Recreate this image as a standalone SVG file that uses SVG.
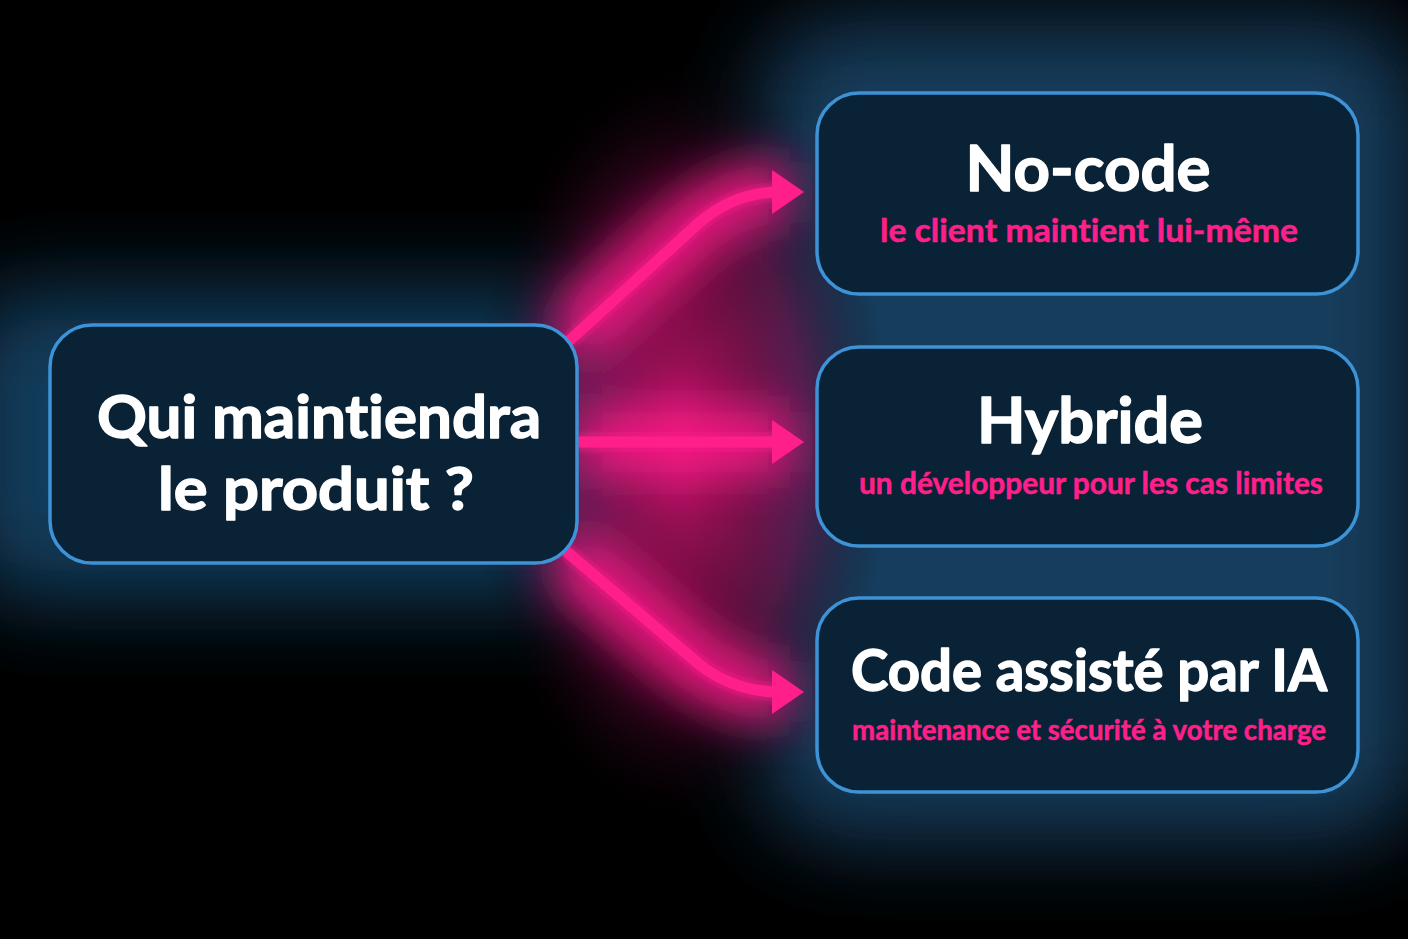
<svg xmlns="http://www.w3.org/2000/svg" width="1408" height="939" viewBox="0 0 1408 939">
<defs>
<style>
.box{fill:#0a2236;stroke:#3d93d6;stroke-width:3.5}
text{font-variant-ligatures:none;font-family:Lato,"Noto Sans",sans-serif;font-weight:700;text-anchor:middle}
.title{fill:#ffffff;stroke:#ffffff;stroke-width:1.4;stroke-linejoin:round}
.sub{fill:#ff1f8a;stroke:#ff1f8a;stroke-width:0.5}
.arrow{fill:none;stroke:#ff1f8a;stroke-width:11;stroke-linecap:round}
.head{fill:#ff1f8a}
</style>
<filter id="blurBig" x="-50%" y="-50%" width="200%" height="200%"><feGaussianBlur stdDeviation="45"/></filter>
<filter id="blurMid" x="-50%" y="-50%" width="200%" height="200%"><feGaussianBlur stdDeviation="24"/></filter>
<filter id="blurSmall" x="-20%" y="-20%" width="140%" height="140%"><feGaussianBlur stdDeviation="5"/></filter>
<radialGradient id="pinkGlow" cx="0.5" cy="0.5" r="0.5">
<stop offset="0" stop-color="#d0146f" stop-opacity="0.95"/>
<stop offset="0.6" stop-color="#850f4f" stop-opacity="0.55"/>
<stop offset="1" stop-color="#000" stop-opacity="0"/>
</radialGradient>
</defs>
<rect width="1408" height="939" fill="#000"/>
<g id="glows">
<rect x="760" y="20" width="660" height="820" rx="80" fill="#1d4d74" opacity="0.8" filter="url(#blurBig)"/>
<rect x="-40" y="290" width="660" height="310" rx="60" fill="#16486e" opacity="0.85" filter="url(#blurBig)"/>
<ellipse cx="680" cy="442" rx="210" ry="390" fill="url(#pinkGlow)"/>
<g filter="url(#blurMid)" opacity="0.9">
<path d="M570 340 L700 222 Q735 192 790 192" stroke="#ff1f8a" stroke-width="60" fill="none"/>
<path d="M580 442 L790 442" stroke="#ff1f8a" stroke-width="60" fill="none"/>
<path d="M567 552 L700 665 Q735 692 790 692" stroke="#ff1f8a" stroke-width="60" fill="none"/>
</g>
</g>
<g id="connectors">
<g filter="url(#blurSmall)" opacity="0.9">
<path class="arrow" d="M570 340 L700 222 Q735 192 780 192"/>
<path class="arrow" d="M580 442 L780 442"/>
<path class="arrow" d="M567 552 L700 665 Q735 692 780 692"/>
</g>
<path class="arrow" d="M570 340 L700 222 Q735 192 780 192"/>
<polygon class="head" points="772,170 804,192 772,214"/>
<path class="arrow" d="M580 442 L780 442"/>
<polygon class="head" points="772,420 804,442 772,464"/>
<path class="arrow" d="M567 552 L700 665 Q735 692 780 692"/>
<polygon class="head" points="772,670 804,692 772,714"/>
</g>
<g id="node-question">
<rect class="box" x="50" y="325" width="527" height="238" rx="42"/>
<text class="title" x="319" y="438" font-size="60" textLength="444" lengthAdjust="spacingAndGlyphs">Qui maintiendra</text>
<text class="title" x="316" y="510" font-size="60" textLength="316" lengthAdjust="spacingAndGlyphs">le produit ?</text>
</g>
<g id="node-nocode">
<rect class="box" x="817" y="93" width="541" height="201" rx="42"/>
<text class="title" x="1088" y="191" font-size="63" textLength="245" lengthAdjust="spacingAndGlyphs">No-code</text>
<text class="sub" x="1089" y="242" font-size="32" textLength="418" lengthAdjust="spacingAndGlyphs">le client maintient lui-même</text>
</g>
<g id="node-hybride">
<rect class="box" x="817" y="347" width="541" height="199" rx="42"/>
<text class="title" x="1090" y="443" font-size="63" textLength="226" lengthAdjust="spacingAndGlyphs">Hybride</text>
<text class="sub" x="1091" y="494" font-size="30" textLength="464" lengthAdjust="spacingAndGlyphs">un développeur pour les cas limites</text>
</g>
<g id="node-code">
<rect class="box" x="817" y="598" width="541" height="194" rx="42"/>
<text class="title" x="1089" y="691" font-size="57" textLength="476" lengthAdjust="spacingAndGlyphs">Code assisté par IA</text>
<text class="sub" x="1089" y="740" font-size="28" textLength="474" lengthAdjust="spacingAndGlyphs">maintenance et sécurité à votre charge</text>
</g>
</svg>
